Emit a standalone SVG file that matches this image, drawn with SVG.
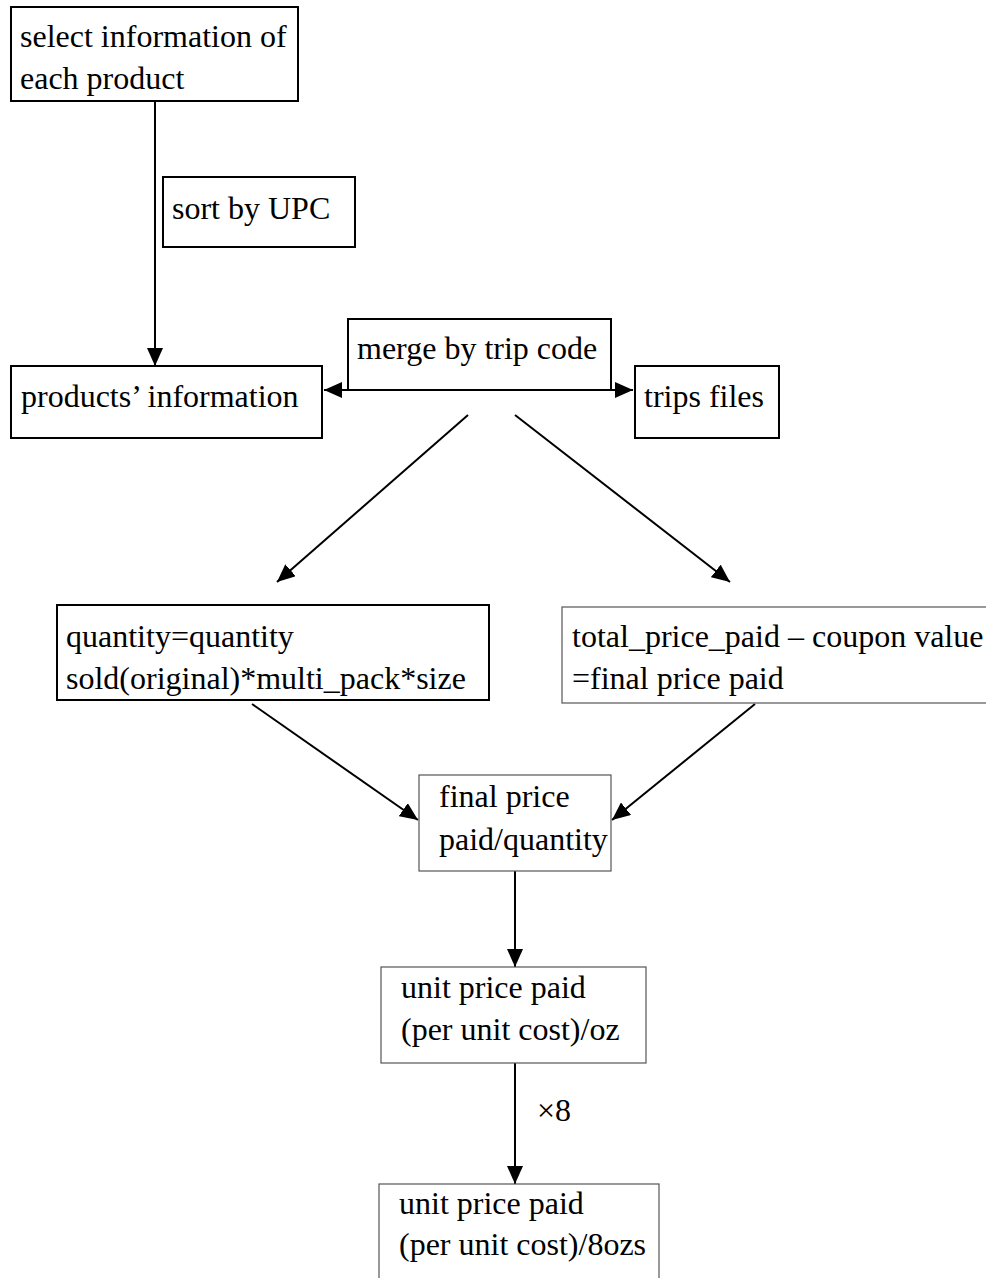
<svg xmlns="http://www.w3.org/2000/svg" width="986" height="1278" viewBox="0 0 986 1278">
<style>
.t{font-family:"Liberation Serif","Times New Roman",serif;font-size:32px;fill:#000}
.b{fill:#fff;stroke:#000;stroke-width:2}
.g{fill:#fff;stroke:#555;stroke-width:1.2}
.c{stroke:#000;stroke-width:2;fill:none}
</style>
<defs>
<marker id="ah" viewBox="0 0 18 16" refX="18" refY="8" markerWidth="18" markerHeight="16" markerUnits="userSpaceOnUse" orient="auto-start-reverse">
<path d="M0,0 L18,8 L0,16 Z" fill="#000"/>
</marker>
</defs>
<rect width="986" height="1278" fill="#fff"/>
<g id="connectors">
<line class="c" x1="155" y1="101" x2="155" y2="366" marker-end="url(#ah)"/>
<line class="c" x1="324" y1="390" x2="633" y2="390" marker-start="url(#ah)" marker-end="url(#ah)"/>
<line class="c" x1="468" y1="415" x2="277" y2="582" marker-end="url(#ah)"/>
<line class="c" x1="515" y1="415" x2="730" y2="582" marker-end="url(#ah)"/>
<line class="c" x1="252" y1="704" x2="418" y2="820" marker-end="url(#ah)"/>
<line class="c" x1="755" y1="704" x2="612" y2="820" marker-end="url(#ah)"/>
<line class="c" x1="515" y1="871" x2="515" y2="967" marker-end="url(#ah)"/>
<line class="c" x1="515" y1="1063" x2="515" y2="1184" marker-end="url(#ah)"/>
<text class="t" x="537" y="1121">×8</text>
</g>
<g id="select">
<rect class="b" x="11" y="7" width="287" height="94"/>
<text class="t" x="20" y="47">select information of</text>
<text class="t" x="20" y="89">each product</text>
</g>
<g id="sort">
<rect class="b" x="163" y="177" width="192" height="70"/>
<text class="t" x="172" y="219">sort by UPC</text>
</g>
<g id="products">
<rect class="b" x="11" y="366" width="311" height="72"/>
<text class="t" x="21" y="407">products’ information</text>
</g>
<g id="merge">
<rect class="b" x="348" y="319" width="263" height="71"/>
<text class="t" x="357" y="359">merge by trip code</text>
</g>
<g id="trips">
<rect class="b" x="635" y="366" width="144" height="72"/>
<text class="t" x="644" y="407">trips files</text>
</g>
<g id="quantity">
<rect class="b" x="57" y="605" width="432" height="95"/>
<text class="t" x="66" y="647">quantity=quantity</text>
<text class="t" x="66" y="689">sold(original)*multi_pack*size</text>
</g>
<g id="total">
<rect class="g" x="562" y="607" width="440" height="96"/>
<text class="t" x="572" y="647">total_price_paid – coupon value</text>
<text class="t" x="572" y="689">=final price paid</text>
</g>
<g id="final">
<rect class="g" x="419" y="775" width="192" height="96"/>
<text class="t" x="439" y="807">final price</text>
<text class="t" x="439" y="850">paid/quantity</text>
</g>
<g id="unit-oz">
<rect class="g" x="381" y="967" width="265" height="96"/>
<text class="t" x="401" y="998">unit price paid</text>
<text class="t" x="401" y="1040">(per unit cost)/oz</text>
</g>
<g id="unit-8oz">
<rect class="g" x="379" y="1184" width="280" height="110"/>
<text class="t" x="399" y="1214">unit price paid</text>
<text class="t" x="399" y="1255">(per unit cost)/8ozs</text>
</g>
</svg>
